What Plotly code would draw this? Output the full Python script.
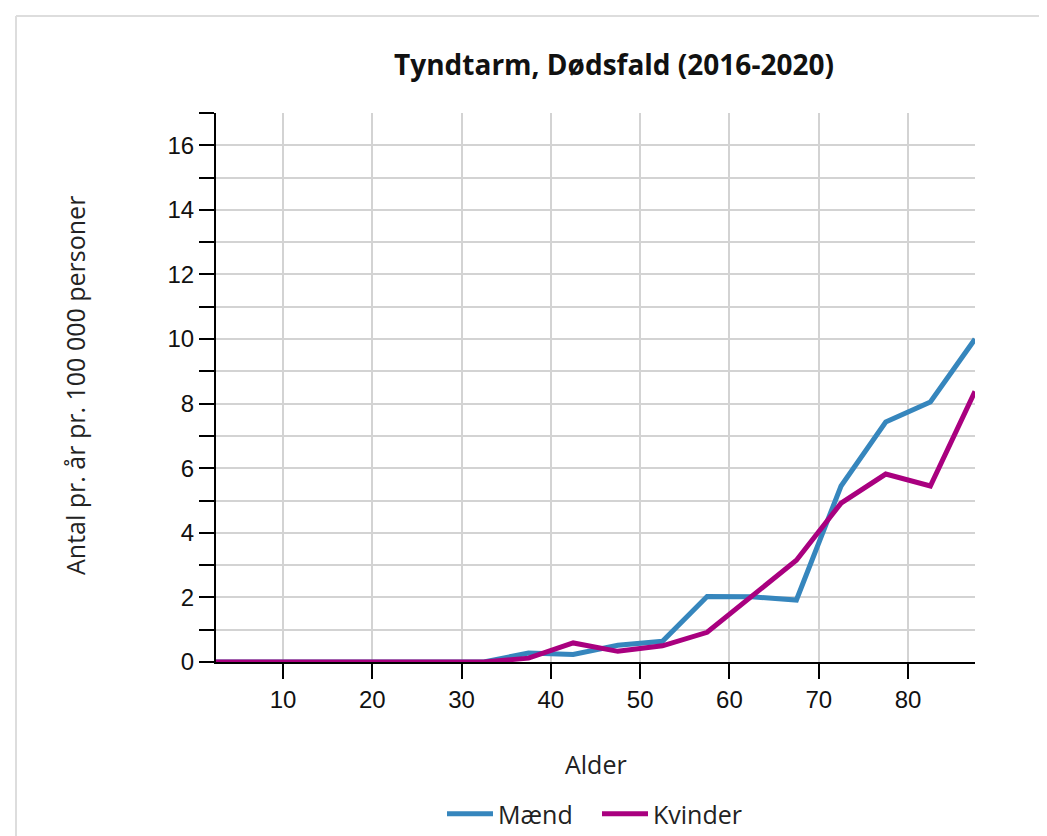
import plotly.graph_objects as go

alder = [2.5, 7.5, 12.5, 17.5, 22.5, 27.5, 32.5, 37.5, 42.5, 47.5, 52.5, 57.5, 62.5, 67.5, 72.5, 77.5, 82.5, 87.5]
maend = [0, 0, 0, 0, 0, 0, 0, 0.28, 0.23, 0.52, 0.64, 2.03, 2.02, 1.92, 5.45, 7.43, 8.05, 10.0]
kvinder = [0, 0, 0, 0, 0, 0, 0, 0.12, 0.59, 0.33, 0.5, 0.92, 2.02, 3.15, 4.92, 5.82, 5.45, 8.38]
x_ticks = [10, 20, 30, 40, 50, 60, 70, 80]

BLUE = "#3686BD"
MAGENTA = "#A9007F"
GRID = "#D3D3D3"

fig = go.Figure()
fig.add_trace(go.Scatter(x=alder, y=maend, mode="lines", name="Mænd",
                         line=dict(color=BLUE, width=5)))
fig.add_trace(go.Scatter(x=alder, y=kvinder, mode="lines", name="Kvinder",
                         line=dict(color=MAGENTA, width=5)))

# page body adds an 8px offset; work in figure pixels = screen pixels - 8
OFF = 8
W, H = 1047 - OFF, 836 - OFF
L, T = 216 - OFF, 113 - OFF
R = W - (975 - OFF)
B = H - (662 - OFF)
pw, ph = W - L - R, H - T - B


def px(x):
    return (x - OFF - L) / pw


def py(y):
    return (H - B - (y - OFF)) / ph


fig.update_layout(
    width=W, height=H,
    margin=dict(l=L, r=R, t=T, b=B, autoexpand=False),
    paper_bgcolor="white", plot_bgcolor="white",
    title=dict(text="<b>Tyndtarm, Dødsfald (2016-2020)</b>",
               font=dict(family="Open Sans", size=28, color="#111"),
               x=(614 - OFF) / W, xanchor="center", xref="container",
               y=1 - (65 - OFF) / H, yanchor="middle", yref="container"),
    showlegend=True,
    legend=dict(orientation="h", xref="container", yref="container",
                x=(597 - OFF) / W, xanchor="center",
                y=1 - (814 - OFF) / H, yanchor="middle",
                itemwidth=46,
                entrywidth=94, entrywidthmode="pixels",
                font=dict(family="Open Sans", size=25, color="#222"),
                bgcolor="rgba(0,0,0,0)"),
    font=dict(family="Liberation Sans", color="#111"),
)

fig.update_xaxes(
    range=[2.5, 87.5], tickvals=x_ticks, ticks="outside", ticklen=15, tickwidth=2,
    tickcolor="black", showline=True, linecolor="black", linewidth=2,
    showgrid=True, gridcolor=GRID, gridwidth=2, zeroline=False,
    tickfont=dict(family="Liberation Sans", size=24, color="#111"),
)
fig.update_yaxes(
    range=[0, 17], dtick=2, tick0=0, ticks="outside", ticklen=15, tickwidth=2,
    tickcolor="black", showline=True, linecolor="black", linewidth=2,
    showgrid=True, gridcolor=GRID, gridwidth=2, zeroline=False,
    tickfont=dict(family="Liberation Sans", size=24, color="#111"),
    minor=dict(dtick=1, tick0=0, ticks="outside", ticklen=15, tickwidth=2, tickcolor="black",
               showgrid=True, gridcolor=GRID, gridwidth=2),
)

fig.add_annotation(text="Alder", xref="paper", yref="paper", x=px(596), y=py(764),
                   showarrow=False, xanchor="center", yanchor="middle",
                   font=dict(family="Open Sans", size=25, color="#222"))
fig.add_annotation(text="Antal pr. år pr. 100 000 personer", xref="paper", yref="paper",
                   x=px(75), y=py(386), textangle=-90, showarrow=False,
                   xanchor="center", yanchor="middle",
                   font=dict(family="Open Sans", size=25, color="#222"))

# card border
fig.add_shape(type="line", xref="paper", yref="paper", x0=px(16), x1=px(1047), y0=py(16), y1=py(16),
              line=dict(color="#DDDDDD", width=2))
fig.add_shape(type="line", xref="paper", yref="paper", x0=px(16), x1=px(16), y0=py(16), y1=py(836),
              line=dict(color="#DDDDDD", width=2))

fig.write_html("out.html")
